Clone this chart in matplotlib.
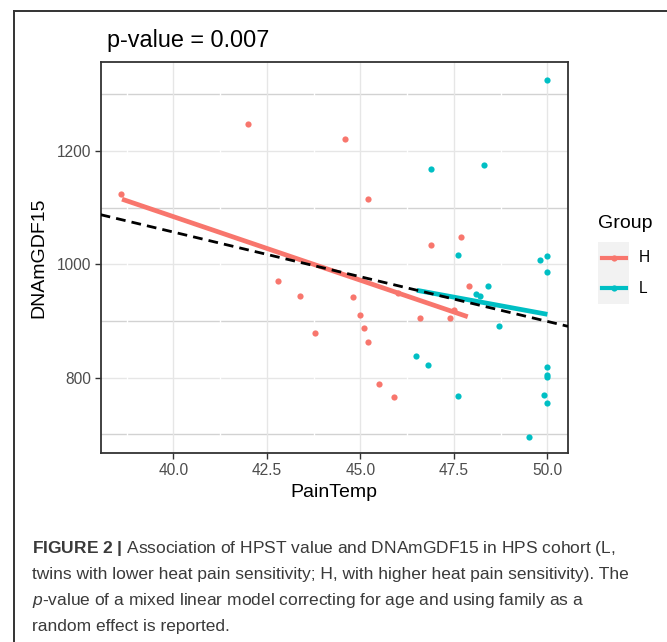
import matplotlib
matplotlib.use('Agg')
import matplotlib.pyplot as plt
from matplotlib.lines import Line2D
from matplotlib.patches import Rectangle

plt.rcParams['font.family'] = ['Liberation Sans', 'DejaVu Sans']
plt.rcParams['mathtext.fontset'] = 'custom'
plt.rcParams['mathtext.rm'] = 'Liberation Sans'
plt.rcParams['mathtext.it'] = 'Liberation Sans:italic'
plt.rcParams['mathtext.bf'] = 'Liberation Sans:bold'

# group H (higher heat pain sensitivity)
h_temp = [38.6, 42.0, 44.6, 45.2, 46.9, 47.7, 47.9, 42.8, 43.4, 43.8,
          44.8, 45.0, 45.1, 45.2, 45.5, 45.9, 46.6, 47.4, 47.5, 46.0]
h_gdf = [1125, 1247, 1222, 1115, 1035, 1049, 961, 971, 945, 878,
         942, 911, 888, 863, 788, 766, 905, 905, 919, 950]

# group L (lower heat pain sensitivity)
l_temp = [50.0, 46.9, 48.3, 47.6, 49.8, 50.0, 50.0, 48.4, 48.1, 48.2,
          48.7, 46.5, 46.8, 47.6, 50.0, 50.0, 50.0, 49.9, 50.0, 49.5]
l_gdf = [1325, 1169, 1176, 1016, 1008, 1014, 986, 962, 948, 944,
         892, 838, 822, 768, 818, 804, 801, 769, 755, 695]

# per group fits
h_fit_x = [38.63, 47.87]
h_fit_y = [1115, 907.6]
l_fit_x = [46.51, 50.0]
l_fit_y = [954.2, 911.8]

# overall fit (dashed)
all_intercept = 1687.8
all_slope = -15.77

red = '#F8766D'
cyan = '#00BFC4'

W, H = 667, 642
fig = plt.figure(figsize=(W / 100, H / 100), dpi=100)

# outer frame of the figure panel
fig.add_artist(Line2D([14 / W, 14 / W], [0, 1 - 10.7 / H], color='#333333', lw=1.4))
fig.add_artist(Line2D([14 / W, 1], [1 - 10.7 / H, 1 - 10.7 / H], color='#333333', lw=1.4))

left, right, top, bottom = 100.7, 568, 62.3, 453.3
ax = fig.add_axes([left / W, 1 - bottom / H, (right - left) / W, (bottom - top) / H])

ax.set_xlim(38.06, 50.55)
ax.set_ylim(666.6, 1356.5)
ax.set_xticks([40, 42.5, 45, 47.5, 50])
ax.set_xticklabels(['40.0', '42.5', '45.0', '47.5', '50.0'])
ax.set_yticks([800, 1000, 1200])

# grid
for yv in [800, 1000, 1200]:
    ax.axhline(yv, color='#E6E6E6', lw=1.0, zorder=0.5)
for yv in [700, 900, 1100, 1300]:
    ax.axhline(yv, color='#D2D2D2', lw=1.0, zorder=0.5)
for xv in [40, 42.5, 45, 47.5, 50]:
    ax.axvline(xv, color='#E6E6E6', lw=1.0, zorder=0.6)
for xv in [38.75, 41.25, 43.75, 46.25, 48.75]:
    ax.axvline(xv, color='white', lw=1.0, zorder=0.7)

ax.scatter(h_temp, h_gdf, s=20, color=red, linewidths=0, zorder=2)
ax.scatter(l_temp, l_gdf, s=20, color=cyan, linewidths=0, zorder=2)
ax.plot(h_fit_x, h_fit_y, color=red, lw=3.4, solid_capstyle='butt', zorder=3)
ax.plot(l_fit_x, l_fit_y, color=cyan, lw=3.4, solid_capstyle='butt', zorder=3)
ax.axline((38.0, all_intercept + all_slope * 38.0), slope=all_slope,
          color='black', lw=2.0, dashes=(3.5, 2.2), zorder=4)

for s in ax.spines.values():
    s.set_color('#333333')
    s.set_linewidth(1.3)
ax.tick_params(axis='both', length=4, width=1.0, color='#333333',
               labelsize=11.2, labelcolor='#4D4D4D', pad=3)

ax.set_xlabel('PainTemp', fontsize=14, color='black', labelpad=4)
ax.set_ylabel('DNAmGDF15', fontsize=14, color='black', labelpad=7)

fig.text(107 / W, 1 - 40 / H, 'p-value = 0.007', fontsize=16.8, va='center', ha='left')

# legend
fig.text(598 / W, 1 - 224 / H, 'Group', fontsize=14, va='center', ha='left')
fig.add_artist(Rectangle((598 / W, 1 - 304 / H), 31 / W, 62.3 / H,
                         facecolor='#F2F2F2', edgecolor='none'))
for lab, col, yk in [('H', red, 257.7), ('L', cyan, 288.3)]:
    fig.add_artist(Line2D([601.7 / W, 626 / W], [1 - yk / H, 1 - yk / H],
                          color=col, lw=3.0))
    fig.add_artist(Line2D([613.8 / W], [1 - yk / H], color=col, marker='o',
                          markersize=4.5, markeredgewidth=0))
    fig.text(639 / W, 1 - yk / H, lab, fontsize=11.2, va='center', ha='left')

# caption
cap = [
    r'$\bf{FIGURE\ 2\ |}$ Association of HPST value and DNAmGDF15 in HPS cohort (L,',
    'twins with lower heat pain sensitivity; H, with higher heat pain sensitivity). The',
    r'$\it{p}$-value of a mixed linear model correcting for age and using family as a',
    'random effect is reported.',
]
for i, line in enumerate(cap):
    fig.text(32 / W, 1 - (548 + 26 * i) / H, line, fontsize=12.5,
             color='#3A3A3A', va='center', ha='left')

fig.savefig('out.png', dpi=100)
